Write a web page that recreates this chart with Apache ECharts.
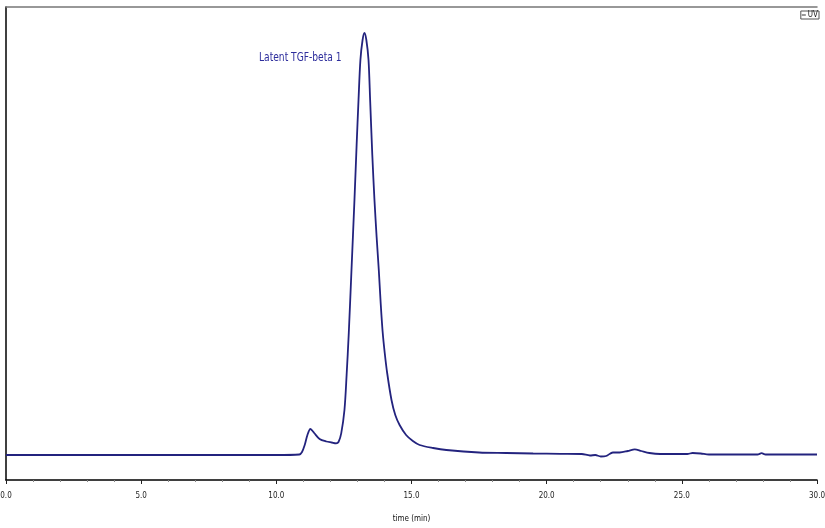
<!DOCTYPE html>
<html><head><meta charset="utf-8">
<script src="https://cdn.jsdelivr.net/npm/echarts@6/dist/echarts.min.js"></script>
<style>html,body{margin:0;padding:0;background:#fff}#c{width:825px;height:528px}</style>
</head><body><div id="c"></div>
<script>
const timeMin = [0,5,10,10.85,10.95,11.05,11.15,11.26,11.4,11.6,11.85,12.05,12.21,12.3,12.4,12.52,12.6,12.68,12.78,12.89,12.97,13.04,13.11,13.19,13.26,13.33,13.41,13.47,13.55,13.63,13.71,13.79,13.86,13.93,14.01,14.1,14.26,14.4,14.56,14.8,15.05,15.3,15.8,16.29,17.5,18.5,19.5,20.5,21.3,21.6,21.8,22.0,22.2,22.45,22.7,23.0,23.26,23.5,23.8,24.2,25.2,25.4,25.7,26.0,27.8,27.95,28.1,30];
const uv = [0,0,0,0.5,3,10,20,26,22,16,13.5,12.5,11.7,13,21.7,45,80,122,185,255,310,355,395,415,422,415,395,355,300,255,218,185,152,124,102,82,55,40,30,20,14,10,7,5,2.5,2,1.5,1.2,1,-0.5,0,-1.5,-1,2.5,2.5,4,5.7,4,2,1,1,2,1.5,0.5,0.5,1.8,0.5,0.5];
const xTicks = [0,5,10,15,20,25,30];
const seriesName = 'UV';
const peakLabel = 'Latent TGF-beta 1';
const xName = 'time (min)';

const narrow = '"Liberation Sans Narrow","DejaVu Sans Condensed","Liberation Sans",sans-serif';
const chart = echarts.init(document.getElementById('c'));
chart.setOption({
  animation:false,
  backgroundColor:'#fff',
  grid:{left:6,right:8,top:7,bottom:48,containLabel:false,outerBoundsMode:'none'},
  legend:{data:[seriesName],right:6,top:11,itemWidth:4,itemHeight:1,icon:'rect',itemGap:2,
    padding:[0,1,0,1],borderColor:'#555',borderWidth:1,
    textStyle:{fontSize:8,color:'#222',fontFamily:narrow,padding:[0,0,0,-3]},
    itemStyle:{color:'#333'},lineStyle:{width:0}},
  xAxis:[{type:'value',min:xTicks[0],max:xTicks[xTicks.length-1],interval:5,
    name:xName,nameLocation:'middle',nameGap:35,
    nameTextStyle:{fontSize:8,color:'#111',fontFamily:narrow},
    axisLine:{show:true,onZero:false,lineStyle:{color:'#000',width:1.5}},
    axisTick:{show:true,length:4,lineStyle:{color:'#222'}},
    minorTick:{show:true,splitNumber:5,length:2,lineStyle:{color:'#888'}},
    axisLabel:{fontSize:8,color:'#222',fontFamily:narrow,margin:12,formatter:v=>v.toFixed(1)},
    splitLine:{show:false}},
   {type:'value',position:'top',min:0,max:30,axisLine:{show:true,onZero:false,lineStyle:{color:'#777',width:1.5}},
    axisTick:{show:false},axisLabel:{show:false},splitLine:{show:false}}],
  yAxis:{type:'value',min:-25,max:448,axisLine:{show:true,onZero:false,lineStyle:{color:'#000',width:1.5}},
    axisTick:{show:false},axisLabel:{show:false},splitLine:{show:false}},
  series:[{name:seriesName,type:'line',smooth:0.3,showSymbol:false,
    lineStyle:{color:'#23237e',width:1.8},itemStyle:{color:'#23237e'},
    data:timeMin.map((t,i)=>[t,uv[i]])}],
  graphic:[{type:'text',left:259,top:51,scaleX:0.78,style:{text:peakLabel,fontSize:13,fontFamily:narrow,fill:'#2d2d9c'}}]
});
</script></body></html>
